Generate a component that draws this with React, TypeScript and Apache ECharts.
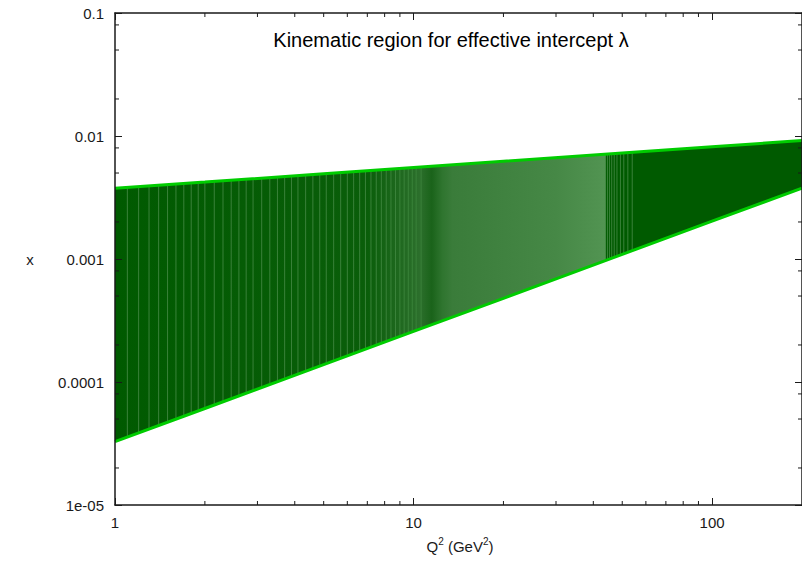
import React, { useEffect, useRef } from "react";
import * as echarts from "echarts";

// Q^2 sample points (GeV^2) and band boundaries in x
const Q2 = [1, 2, 5, 10, 20, 50, 100, 200];
const X_UPPER = [0.00376, 0.00422, 0.00493, 0.00554, 0.00623, 0.00727, 0.00817, 0.00918];
const X_LOWER = [3.27e-5, 6.09e-5, 1.385e-4, 2.58e-4, 4.79e-4, 1.09e-3, 2.03e-3, 3.77e-3];

// fill shading along Q^2
const SHADE_Q2 = [1, 7, 10.5, 11.5, 12.5, 13.5, 30, 43.9, 44.1, 200];
const SHADE_COLOR = ["#005a00", "#0a5e0a", "#2c6f2c", "#1a631a", "#2f752f", "#3a7c3a", "#468846", "#529452", "#005a00", "#005a00"];

// lighter seams in the fill
const SEAM_Q2 = [
  1.1, 1.2, 1.3, 1.4, 1.5, 1.6, 1.7, 1.8, 1.9, 2.0, 2.15, 2.3, 2.45, 2.6, 2.75, 2.9, 3.1, 3.3, 3.5,
  3.7, 3.9, 4.1, 4.35, 4.6, 4.85, 5.1, 5.4, 5.7, 6.0, 6.3, 6.6, 6.9, 7.2, 7.5, 7.8, 8.1, 8.4, 8.7,
  9.0, 9.3, 9.6, 9.9, 10.2, 10.6, 44.6, 45.3, 46.1, 47.0, 48.0, 49.3, 50.6, 52.2, 54.0,
];

// ticks
const X_TICK_LABELS = ["1", "10", "100"];
const Y_TICK_LABELS = ["1e-05", "0.0001", "0.001", "0.01", "0.1"];
const X_MINOR = [2, 3, 4, 5, 6, 7, 8, 9, 20, 30, 40, 50, 60, 70, 80, 90];
const Y_MINOR = [2e-5, 5e-5, 8e-5, 2e-4, 5e-4, 8e-4, 2e-3, 5e-3, 8e-3, 2e-2, 5e-2, 8e-2];

const FONT = "Liberation Sans, Arial, Helvetica, sans-serif";
const AXIS_COLOR = "#1a1a1a";

function interpLog(arr: number[], q: number): number {
  const lq = Math.log10(q);
  for (let i = 0; i < Q2.length - 1; i++) {
    const a = Math.log10(Q2[i]);
    const b = Math.log10(Q2[i + 1]);
    if (lq >= a && lq <= b) {
      const t = (lq - a) / (b - a);
      return Math.pow(10, Math.log10(arr[i]) + t * (Math.log10(arr[i + 1]) - Math.log10(arr[i])));
    }
  }
  return arr[arr.length - 1];
}

export default function App() {
  const ref = useRef<HTMLDivElement>(null);
  useEffect(() => {
    document.body.style.margin = "0";
    const chart = echarts.init(ref.current!, null, { renderer: "svg" });
    const xMin = 1, xMax = 200, yMin = 1e-5, yMax = 0.1;
    const axisCommon = {
      type: "log" as const,
      logBase: 10,
      z: 10,
      splitLine: { show: false },
      axisLine: { show: true, lineStyle: { color: AXIS_COLOR, width: 1.5 } },
      axisTick: { show: true, inside: true, length: 7, lineStyle: { color: AXIS_COLOR, width: 1 } },
    };
    const option: any = {
      animation: false,
      grid: { left: 115, right: -5, top: 13, bottom: 57, containLabel: false },
      xAxis: [
        {
          ...axisCommon,
          position: "bottom",
          min: xMin,
          max: xMax,
          axisLabel: {
            margin: 10,
            fontFamily: FONT,
            fontSize: 15,
            color: "#1a1a1a",
            showMaxLabel: false,
            formatter: (v: number) => {
              const e = Math.round(Math.log10(v));
              return Math.abs(Math.log10(v) - e) < 1e-6 ? X_TICK_LABELS[e] ?? "" : "";
            },
          },
        },
        {
          ...axisCommon,
          position: "top",
          min: xMin,
          max: xMax,
          axisLabel: { show: false },
        },
      ],
      yAxis: [
        {
          ...axisCommon,
          position: "left",
          min: yMin,
          max: yMax,
          axisLabel: {
            margin: 11,
            fontFamily: FONT,
            fontSize: 15,
            color: "#1a1a1a",
            formatter: (v: number) => {
              const e = Math.round(Math.log10(v)) + 5;
              return Y_TICK_LABELS[e] ?? "";
            },
          },
        },
        {
          ...axisCommon,
          position: "right",
          min: yMin,
          max: yMax,
          axisLabel: { show: false },
        },
      ],
      graphic: [
        {
          type: "text",
          x: 451,
          y: 40,
          style: {
            text: "Kinematic region for effective intercept λ",
            font: `20px ${FONT}`,
            fill: "#000",
            textAlign: "center",
            textVerticalAlign: "middle",
          },
        },
        {
          type: "text",
          x: 30,
          y: 259,
          style: {
            text: "x",
            font: `15px ${FONT}`,
            fill: "#1a1a1a",
            textAlign: "center",
            textVerticalAlign: "middle",
          },
        },
        {
          type: "text",
          x: 460,
          y: 546,
          style: {
            text: "Q{sup|2} (GeV{sup|2})",
            font: `15px ${FONT}`,
            fill: "#1a1a1a",
            textAlign: "center",
            textVerticalAlign: "middle",
            rich: {
              sup: { fontSize: 10, fontFamily: FONT, verticalAlign: "top", lineHeight: 20, padding: [0, 0, 9, 0] },
            },
          },
        },
      ],
      series: [
        {
          type: "custom",
          name: "band",
          xAxisIndex: 0,
          yAxisIndex: 0,
          z: 1,
          clip: true,
          data: [[1, 0.001]],
          renderItem: (_p: any, api: any) => {
            const pts: number[][] = [];
            for (let i = 0; i < Q2.length; i++) pts.push(api.coord([Q2[i], X_UPPER[i]]));
            for (let i = Q2.length - 1; i >= 0; i--) pts.push(api.coord([Q2[i], X_LOWER[i]]));
            const xs = SHADE_Q2.map((q) => api.coord([q, X_UPPER[0]])[0]);
            const x0 = xs[0];
            const x1 = xs[xs.length - 1];
            const stops = SHADE_Q2.map((_q, i) => ({ offset: (xs[i] - x0) / (x1 - x0), color: SHADE_COLOR[i] }));
            return {
              type: "polygon",
              shape: { points: pts },
              style: { fill: new echarts.graphic.LinearGradient(x0, 0, x1, 0, stops, true) },
            };
          },
        },
        {
          type: "custom",
          name: "seams",
          xAxisIndex: 0,
          yAxisIndex: 0,
          z: 2,
          clip: true,
          data: SEAM_Q2.map((q) => [q, 0.001]),
          renderItem: (_p: any, api: any) => {
            const q = api.value(0);
            const a = api.coord([q, interpLog(X_LOWER, q)]);
            const b = api.coord([q, interpLog(X_UPPER, q)]);
            return {
              type: "line",
              shape: { x1: a[0], y1: a[1], x2: b[0], y2: b[1] },
              style: { stroke: "#3a823a", lineWidth: 1, opacity: 1 },
            };
          },
        },
        {
          type: "line",
          name: "upper",
          xAxisIndex: 0,
          yAxisIndex: 0,
          z: 3,
          symbol: "none",
          data: Q2.map((q, i) => [q, X_UPPER[i]]),
          lineStyle: { color: "#00cc00", width: 3 },
        },
        {
          type: "line",
          name: "lower",
          xAxisIndex: 0,
          yAxisIndex: 0,
          z: 3,
          symbol: "none",
          data: Q2.map((q, i) => [q, X_LOWER[i]]),
          lineStyle: { color: "#00cc00", width: 3 },
        },
        {
          type: "custom",
          name: "xminor",
          xAxisIndex: 0,
          yAxisIndex: 0,
          z: 11,
          clip: false,
          data: X_MINOR.map((v) => [v, yMin]),
          renderItem: (_p: any, api: any) => {
            const v = api.value(0);
            const b = api.coord([v, yMin]);
            const t = api.coord([v, yMax]);
            const st = { stroke: AXIS_COLOR, lineWidth: 1 };
            return {
              type: "group",
              children: [
                { type: "line", shape: { x1: b[0], y1: b[1], x2: b[0], y2: b[1] - 4 }, style: st },
                { type: "line", shape: { x1: t[0], y1: t[1], x2: t[0], y2: t[1] + 4 }, style: st },
              ],
            };
          },
        },
        {
          type: "custom",
          name: "yminor",
          xAxisIndex: 0,
          yAxisIndex: 0,
          z: 11,
          clip: false,
          data: Y_MINOR.map((v) => [xMin, v]),
          renderItem: (_p: any, api: any) => {
            const v = api.value(1);
            const l = api.coord([xMin, v]);
            const r = api.coord([xMax, v]);
            const st = { stroke: AXIS_COLOR, lineWidth: 1 };
            return {
              type: "group",
              children: [
                { type: "line", shape: { x1: l[0], y1: l[1], x2: l[0] + 4, y2: l[1] }, style: st },
                { type: "line", shape: { x1: r[0], y1: r[1], x2: r[0] - 4, y2: r[1] }, style: st },
              ],
            };
          },
        },
      ],
    };
    chart.setOption(option);
    return () => chart.dispose();
  }, []);
  return <div ref={ref} style={{ width: 802, height: 562 }} />;
}
